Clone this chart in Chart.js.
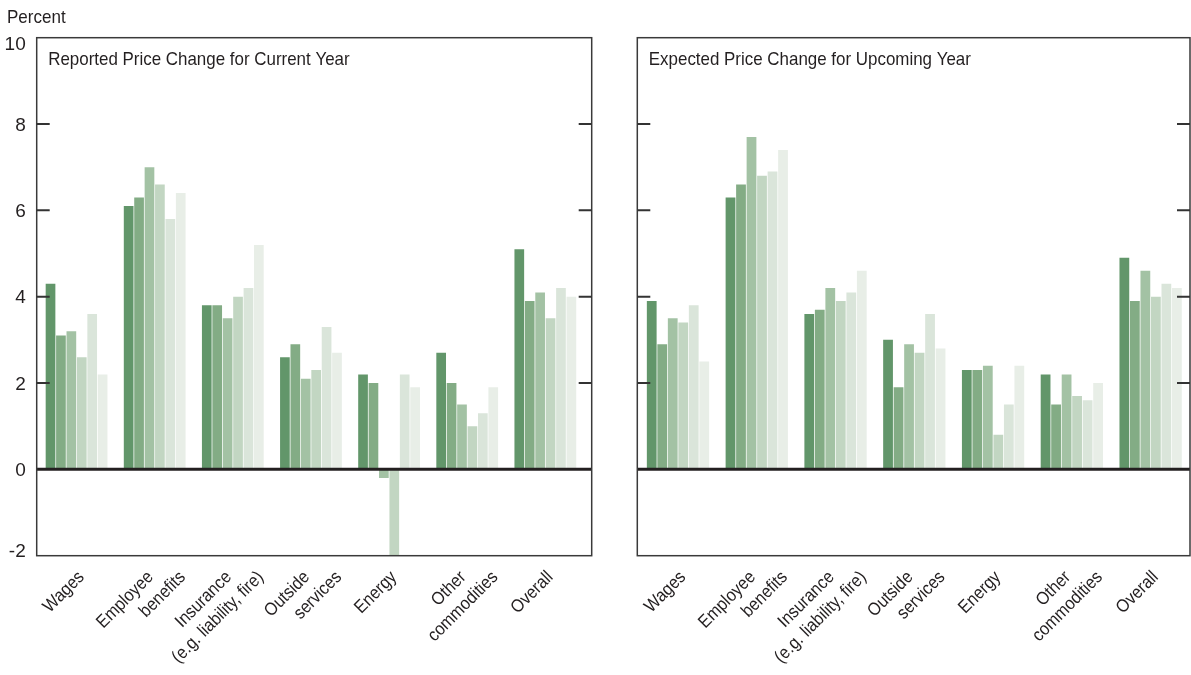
<!DOCTYPE html>
<html>
<head>
<meta charset="utf-8">
<script src="https://cdn.jsdelivr.net/npm/chart.js@4.4.1/dist/chart.umd.min.js"></script>
<style>
    body { margin: 0; background: #fff; }
    #wrap { position: relative; width: 1191px; height: 675px; }
    canvas { position: absolute; top: 0; }
</style>
</head>
<body>
<div id="wrap">
    <canvas id="leftChart" width="600" height="675" style="left:0px"></canvas>
    <canvas id="rightChart" width="591" height="675" style="left:600px"></canvas>
</div>
<script>
// ================= DATA =================
const categories = [
    ["Wages"],
    ["Employee", "benefits"],
    ["Insurance", "(e.g. liability, fire)"],
    ["Outside", "services"],
    ["Energy"],
    ["Other", "commodities"],
    ["Overall"]
];

// Reported price change for current year (six series, dark -> light)
const current1 = [4.3, 6.1, 3.8, 2.6, 2.2, 2.7, 5.1];
const current2 = [3.1, 6.3, 3.8, 2.9, 2.0, 2.0, 3.9];
const current3 = [3.2, 7.0, 3.5, 2.1, -0.2, 1.5, 4.1];
const current4 = [2.6, 6.6, 4.0, 2.3, -2.0, 1.0, 3.5];
const current5 = [3.6, 5.8, 4.2, 3.3, 2.2, 1.3, 4.2];
const current6 = [2.2, 6.4, 5.2, 2.7, 1.9, 1.9, 4.0];

// Expected price change for upcoming year
const upcoming1 = [3.9, 6.3, 3.6, 3.0, 2.3, 2.2, 4.9];
const upcoming2 = [2.9, 6.6, 3.7, 1.9, 2.3, 1.5, 3.9];
const upcoming3 = [3.5, 7.7, 4.2, 2.9, 2.4, 2.2, 4.6];
const upcoming4 = [3.4, 6.8, 3.9, 2.7, 0.8, 1.7, 4.0];
const upcoming5 = [3.8, 6.9, 4.1, 3.6, 1.5, 1.6, 4.3];
const upcoming6 = [2.5, 7.4, 4.6, 2.8, 2.4, 2.0, 4.2];

const yMin = -2;
const yMax = 10;
const yStep = 2;
const yTickLabels = [10, 8, 6, 4, 2, 0, -2];
const innerTicks = [8, 6, 4, 2];

const greens = ["#62966a", "#83ac85", "#a3c2a4", "#c2d6c2", "#dae5da", "#e8eee7"];

const FONT = "'Liberation Sans', Arial, sans-serif";
const INK = "#231f20";

Chart.defaults.font.family = FONT;
Chart.defaults.color = INK;

// squeezed text, the original type is a condensed face
function putText(ctx, text, x, y, size, squeeze, align, angle) {
    ctx.save();
    ctx.translate(x, y);
    if (angle) ctx.rotate(angle);
    ctx.scale(squeeze, 1);
    ctx.font = size + "px " + FONT;
    ctx.textAlign = align;
    ctx.textBaseline = "alphabetic";
    ctx.fillText(text, 0, 0);
    ctx.restore();
}

// ================= FRAME PLUGIN =================
const panelFrame = {
    id: "panelFrame",
    afterDraw(chart, args, opts) {
        const { ctx, chartArea } = chart;
        const yScale = chart.scales.y;
        const xScale = chart.scales.x;
        const left = chartArea.left + opts.extraLeft;
        const right = chartArea.right + opts.extraRight;
        const top = chartArea.top;
        const bottom = chartArea.bottom;

        ctx.save();

        // zero line
        const y0 = yScale.getPixelForValue(0);
        ctx.strokeStyle = INK;
        ctx.lineWidth = 3;
        ctx.beginPath();
        ctx.moveTo(left, y0);
        ctx.lineTo(right, y0);
        ctx.stroke();

        // box
        ctx.strokeStyle = "#3a3a3a";
        ctx.lineWidth = 1.5;
        ctx.strokeRect(left, top, right - left, bottom - top);

        // inward ticks
        ctx.lineWidth = 2;
        ctx.strokeStyle = "#333";
        innerTicks.forEach(v => {
            const py = yScale.getPixelForValue(v);
            ctx.beginPath();
            ctx.moveTo(left, py);
            ctx.lineTo(left + 13, py);
            ctx.moveTo(right - 13, py);
            ctx.lineTo(right, py);
            ctx.stroke();
        });

        ctx.fillStyle = INK;

        // y labels (left panel only), kept inside the frame at the ends
        if (opts.yLabels) {
            yTickLabels.forEach(v => {
                let py = yScale.getPixelForValue(v) + 1.5;
                py = Math.max(top + 7.5, Math.min(bottom - 4, py));
                ctx.save();
                ctx.font = "19px " + FONT;
                ctx.textAlign = "right";
                ctx.textBaseline = "middle";
                ctx.fillText(String(v), left - 11, py);
                ctx.restore();
            });
        }

        // category labels, rotated 45 deg, each line on its own anchor
        categories.forEach((lines, i) => {
            const cx = xScale.getPixelForValue(i);
            const offs = lines.length === 1 ? [8.5] : [-0.5, 31.5];
            lines.forEach((line, j) => {
                putText(ctx, line, cx + offs[j], 578, 18, 0.9, "right", -Math.PI / 4);
            });
        });

        // panel title
        putText(ctx, opts.title, left + 11.5, 65, 18.5, 0.915, "left");

        if (opts.unit) {
            putText(ctx, opts.unit, 7, 22.6, 18.5, 0.92, "left");
        }
        ctx.restore();
    }
};

// ================= BUILD =================
function makePanel(canvasId, seriesList, cfg) {
    const datasets = seriesList.map((values, i) => ({
        data: values,
        backgroundColor: greens[i],
        borderWidth: 0,
        barPercentage: 0.93,
        categoryPercentage: 0.8
    }));

    return new Chart(document.getElementById(canvasId), {
        type: "bar",
        data: { labels: categories.map(c => c.join(" ")), datasets },
        options: {
            responsive: false,
            animation: false,
            layout: { padding: { top: 37.7, right: cfg.padRight, left: 0, bottom: 0 } },
            plugins: {
                legend: { display: false },
                tooltip: { enabled: false },
                panelFrame: {
                    title: cfg.title,
                    unit: cfg.unit,
                    yLabels: cfg.showYLabels,
                    extraLeft: cfg.extraLeft,
                    extraRight: cfg.extraRight
                }
            },
            scales: {
                x: {
                    grid: { display: false, drawTicks: false },
                    border: { display: false },
                    ticks: { display: false },
                    afterFit(scale) { scale.height = 675 - 555.7; }
                },
                y: {
                    min: yMin,
                    max: yMax,
                    grid: { display: false, drawTicks: false },
                    border: { display: false },
                    ticks: { display: false, stepSize: yStep },
                    afterFit(scale) { scale.width = cfg.axisWidth; }
                }
            }
        },
        plugins: [panelFrame]
    });
}

window.addEventListener("DOMContentLoaded", () => {
    makePanel("leftChart",
        [current1, current2, current3, current4, current5, current6],
        {
            title: "Reported Price Change for Current Year",
            unit: "Percent",
            showYLabels: true,
            axisWidth: 37.5,
            padRight: 15.6,
            extraLeft: -0.8,
            extraRight: 7.3
        });

    makePanel("rightChart",
        [upcoming1, upcoming2, upcoming3, upcoming4, upcoming5, upcoming6],
        {
            title: "Expected Price Change for Upcoming Year",
            unit: null,
            showYLabels: false,
            axisWidth: 38.6,
            padRight: 1,
            extraLeft: -1.3,
            extraRight: 0
        });
});
</script>
</body>
</html>
